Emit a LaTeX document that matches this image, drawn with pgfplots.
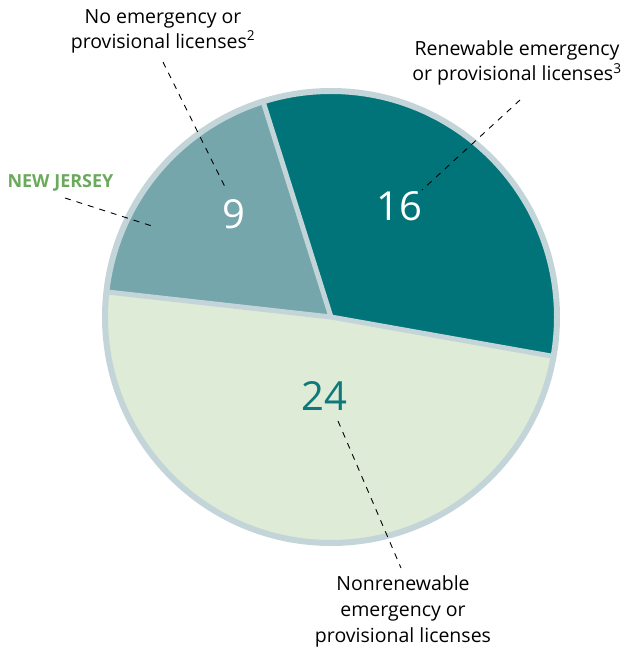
\documentclass[border=0pt]{standalone}
\usepackage{fontspec}
\setmainfont{Open Sans}
\usepackage{pgfplots}
\usepackage{pgfplotstable}
\pgfplotsset{compat=1.18}
\definecolor{darkteal}{HTML}{007479}
\definecolor{midteal}{HTML}{74A6AB}
\definecolor{lightgreen}{HTML}{DDEBD7}
\definecolor{rimgray}{HTML}{C4D5DA}
\definecolor{numteal}{HTML}{0E787C}
\definecolor{njgreen}{HTML}{6BAA5D}
\pgfplotstableread{
label value
Renewable 16
Nonrenewable 24
None 9
}\pietable
\begin{document}%
\begin{tikzpicture}
\pgfplotstablegetelem{0}{value}\of\pietable \let\va\pgfplotsretval
\pgfplotstablegetelem{1}{value}\of\pietable \let\vb\pgfplotsretval
\pgfplotstablegetelem{2}{value}\of\pietable \let\vc\pgfplotsretval
\pgfmathsetmacro\total{\va+\vb+\vc}
\pgfmathsetmacro\aA{107.5}
\pgfmathsetmacro\aB{\aA-360*\va/\total}
\pgfmathsetmacro\aC{\aB-360*\vb/\total}
\pgfmathsetmacro\aD{\aC-360*\vc/\total}
\begin{axis}[name=ax, scale only axis, width=628pt, height=653pt,
  xmin=0, xmax=628, ymin=0, ymax=653, hide axis, clip=false]
\def\R{226pt}
\fill[darkteal] (axis cs:331,336) -- ++(\aA:\R) arc[start angle=\aA, end angle=\aB, radius=\R] -- cycle;
\fill[lightgreen] (axis cs:331,336) -- ++(\aB:\R) arc[start angle=\aB, end angle=\aC, radius=\R] -- cycle;
\fill[midteal] (axis cs:331,336) -- ++(\aC:\R) arc[start angle=\aC, end angle=\aD, radius=\R] -- cycle;
\draw[rimgray, line width=5pt] (axis cs:331,336) -- ++(\aA:\R);
\draw[rimgray, line width=5pt] (axis cs:331,336) -- ++(\aB:\R);
\draw[rimgray, line width=5pt] (axis cs:331,336) -- ++(\aC:\R);
\draw[rimgray, line width=6pt] (axis cs:331,336) circle[radius=\R];
% numbers
\node[white, font=\fontsize{40}{40}\selectfont] at (axis cs:234,439) {\vc};
\node[white, font=\fontsize{40}{40}\selectfont] at (axis cs:399,447) {\va};
\node[numteal, font=\fontsize{40}{40}\selectfont] at (axis cs:324,257) {\vb};
% leader lines
\draw[black, line width=0.9pt, dash pattern=on 6pt off 6pt] (axis cs:163,591) -- (axis cs:225,466);
\draw[black, line width=0.9pt, dash pattern=on 6pt off 6pt] (axis cs:520,553) -- (axis cs:422,463);
\draw[black, line width=0.9pt, dash pattern=on 6pt off 6pt] (axis cs:65,455) -- (axis cs:152,427);
\draw[black, line width=0.9pt, dash pattern=on 6pt off 6pt] (axis cs:338,232) -- (axis cs:401,85);
% labels
\node[align=center, font=\fontsize{19.5}{25}\selectfont] at (axis cs:163,622) {No emergency or\\provisional licenses\textsuperscript{2}};
\node[align=center, font=\fontsize{19.5}{25}\selectfont] at (axis cs:517,590) {Renewable emergency\\or provisional licenses\textsuperscript{3}};
\node[align=center, font=\fontsize{19.5}{26}\selectfont] at (axis cs:403,42) {Nonrenewable\\emergency or\\provisional licenses};
\node[anchor=west, njgreen, font=\fontsize{18}{18}\selectfont\bfseries] at (axis cs:4,470) {NEW JERSEY};
\end{axis}
\pgfresetboundingbox
\path (ax.south west) (ax.north east);
\end{tikzpicture}%
\end{document}
